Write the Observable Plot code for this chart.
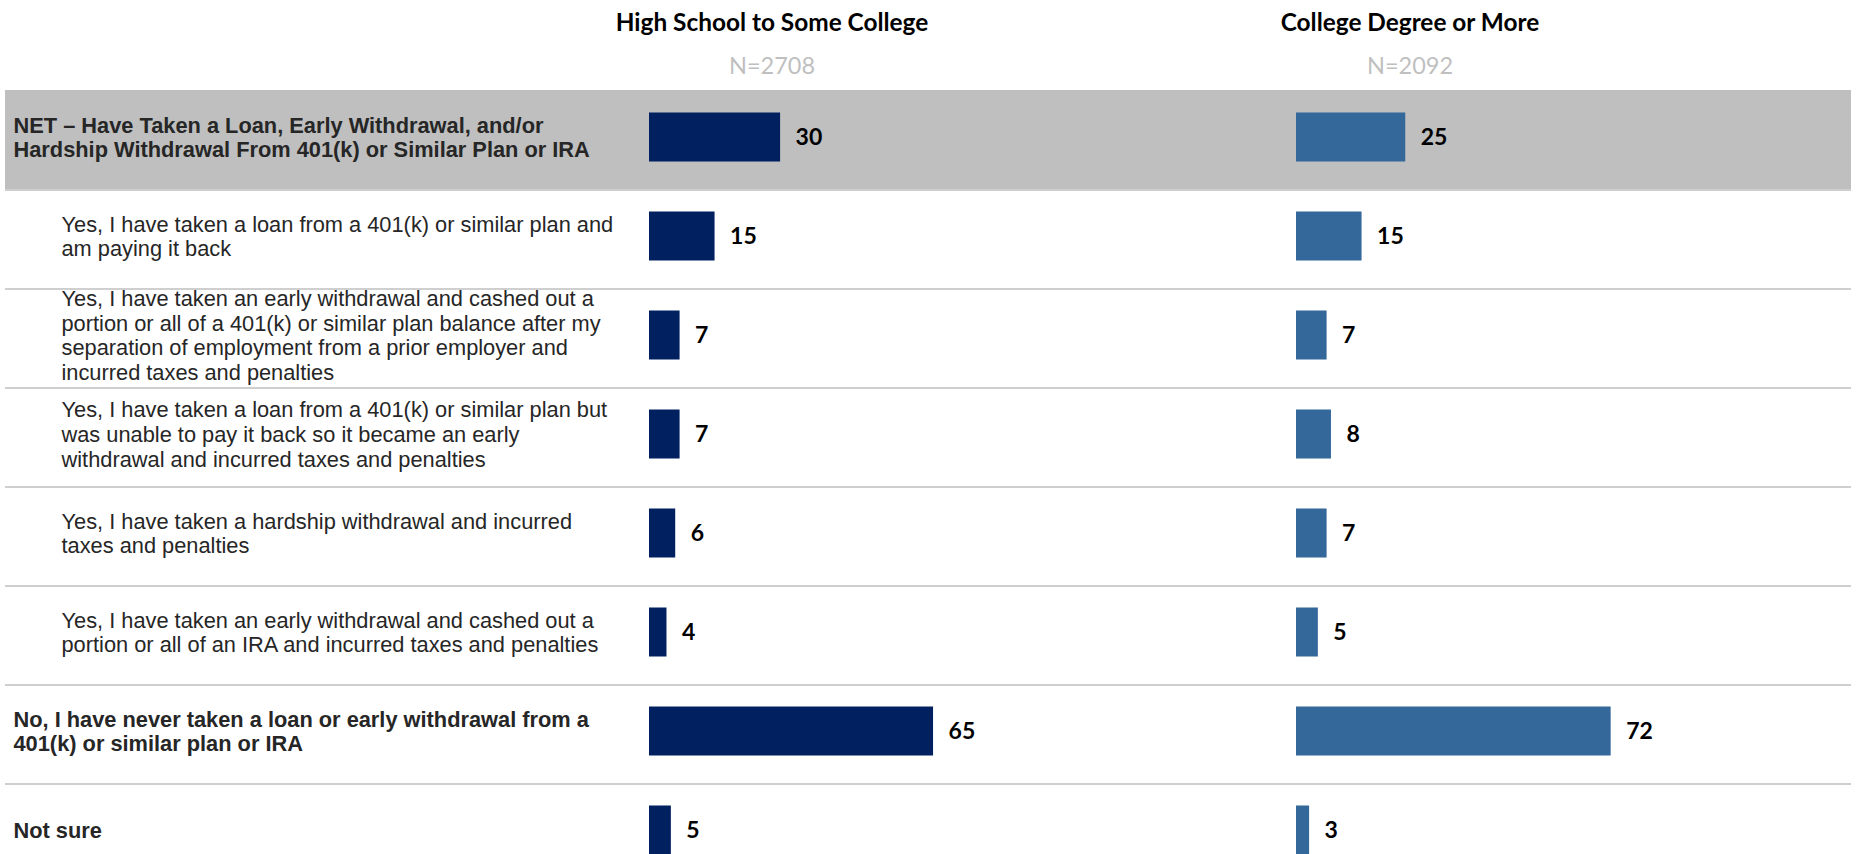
<!DOCTYPE html>
<html>
<head>
<meta charset="utf-8">
<script src="https://cdn.jsdelivr.net/npm/d3@7"></script>
<script src="https://cdn.jsdelivr.net/npm/@observablehq/plot@0.6"></script>
<style>
  html, body { margin: 0; padding: 0; overflow: hidden; background: #ffffff; }
  #chart { position: relative; width: 1857px; height: 854px; overflow: hidden; }
  #chart svg { position: absolute; left: 0; top: 0; }
</style>
</head>
<body>
<div id="chart"></div>
<script>
// ---------- data ----------
const categories = [
  "NET – Have Taken a Loan, Early Withdrawal, and/or Hardship Withdrawal From 401(k) or Similar Plan or IRA",
  "Yes, I have taken a loan from a 401(k) or similar plan and am paying it back",
  "Yes, I have taken an early withdrawal and cashed out a portion or all of a 401(k) or similar plan balance after my separation of employment from a prior employer and incurred taxes and penalties",
  "Yes, I have taken a loan from a 401(k) or similar plan but was unable to pay it back so it became an early withdrawal and incurred taxes and penalties",
  "Yes, I have taken a hardship withdrawal and incurred taxes and penalties",
  "Yes, I have taken an early withdrawal and cashed out a portion or all of an IRA and incurred taxes and penalties",
  "No, I have never taken a loan or early withdrawal from a 401(k) or similar plan or IRA",
  "Not sure"
];
const tickLabels = [
  "NET – Have Taken a Loan, Early Withdrawal, and/or\nHardship Withdrawal From 401(k) or Similar Plan or IRA",
  "Yes, I have taken a loan from a 401(k) or similar plan and\nam paying it back",
  "Yes, I have taken an early withdrawal and cashed out a\nportion or all of a 401(k) or similar plan balance after my\nseparation of employment from a prior employer and\nincurred taxes and penalties",
  "Yes, I have taken a loan from a 401(k) or similar plan but\nwas unable to pay it back so it became an early\nwithdrawal and incurred taxes and penalties",
  "Yes, I have taken a hardship withdrawal and incurred\ntaxes and penalties",
  "Yes, I have taken an early withdrawal and cashed out a\nportion or all of an IRA and incurred taxes and penalties",
  "No, I have never taken a loan or early withdrawal from a\n401(k) or similar plan or IRA",
  "Not sure"
];
const groups = ["High School to Some College", "College Degree or More"];
const sampleSizes = ["N=2708", "N=2092"];
const highSchool = [30, 15, 7, 7, 6, 4, 65, 5];
const collegeDegree = [25, 15, 7, 8, 7, 5, 72, 3];
const netRows = [categories[0]];
const subRows = categories.slice(1, 6);

// ---------- layout ----------
const W = 1857, H = 854;
const FONT = "Lato, Carlito, Calibri, sans-serif";
const LABEL_FONT = "'Liberation Sans', Arial, sans-serif";
const TOP = 87.3, STEP = 99.75;
const MB = H - (TOP + STEP * categories.length);
const HEADER_DX = [122.5, 113.5];

const rows = categories.map((c, i) => ({cat: c, label: tickLabels[i], sub: subRows.includes(c)}));
const values = [highSchool, collegeDegree];
const data = groups.flatMap((g, gi) => categories.map((c, i) => ({group: g, cat: c, value: values[gi][i]})));
const headers = groups.map((g, i) => ({group: g, n: sampleSizes[i]}));

const yOpts = {domain: categories, padding: 0, axis: null};

const bg = Plot.plot({
  width: W, height: H,
  marginTop: TOP, marginBottom: MB, marginLeft: 5, marginRight: 6,
  x: {axis: null},
  y: yOpts,
  style: {background: "transparent", fontFamily: LABEL_FONT},
  marks: [
    Plot.cell(netRows, {y: d => d, fill: "#BFBFBF"}),
    Plot.ruleY(categories.slice(0, -1), {y: d => d, dy: STEP / 2, stroke: "#BFBFBF", strokeWidth: 1.5}),
    Plot.text(rows.filter(d => !d.sub), {
      y: "cat", text: "label", frameAnchor: "left", textAnchor: "start", lineAnchor: "middle",
      dx: 8, dy: -3, fontSize: 21.8, fontWeight: "bold", lineHeight: 1.13, fill: "#262626", fontFamily: LABEL_FONT
    }),
    Plot.text(rows.filter(d => d.sub), {
      y: "cat", text: "label", frameAnchor: "left", textAnchor: "start", lineAnchor: "middle",
      dx: 56, dy: -3, fontSize: 21.8, lineHeight: 1.13, fill: "#262626", fontFamily: LABEL_FONT
    })
  ]
});

const headerMarks = headers.flatMap((h, i) => [
  Plot.text([h], {
    fx: "group", text: "group", frameAnchor: "top-left", textAnchor: "middle", lineAnchor: "middle",
    dx: HEADER_DX[i], dy: -65, fontSize: 24.4, fontWeight: "bold", fill: "#000000", fontFamily: FONT
  }),
  Plot.text([h], {
    fx: "group", text: "n", frameAnchor: "top-left", textAnchor: "middle", lineAnchor: "middle",
    dx: HEADER_DX[i], dy: -21, fontSize: 23.5, fill: "#BFBFBF", fontFamily: FONT
  })
]);

const bars = Plot.plot({
  width: W, height: H,
  marginTop: TOP, marginBottom: MB, marginLeft: 648, marginRight: 123.8,
  fx: {domain: groups, paddingInner: 0.3243, paddingOuter: 0, axis: null},
  x: {domain: [0, 100], axis: null},
  y: yOpts,
  color: {domain: groups, range: ["#002060", "#34679A"]},
  style: {background: "transparent", fontFamily: FONT},
  marks: [
    Plot.barX(data, {fx: "group", y: "cat", x: "value", fill: "group", insetTop: 22.5, insetBottom: 27.5}),
    Plot.text(data, {
      fx: "group", y: "cat", x: "value", text: d => String(d.value),
      textAnchor: "start", dx: 15, dy: -2, fontSize: 23, fontWeight: "bold", fill: "#000000", fontFamily: FONT
    }),
    ...headerMarks
  ]
});

const chart = document.getElementById("chart");
chart.appendChild(bg);
chart.appendChild(bars);
</script>
</body>
</html>
